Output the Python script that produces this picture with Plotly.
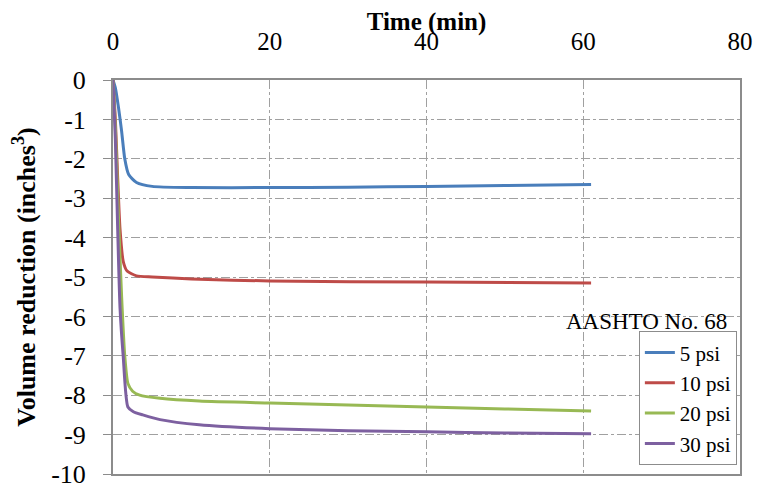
import plotly.graph_objects as go

series_names = ["5 psi", "10 psi", "20 psi", "30 psi"]
colors = ["#4A7EBB", "#BE4B48", "#98B954", "#7D60A0"]

t_5 = [0, 0.3, 0.7, 1.1, 1.5, 2.0, 3.0, 5.0, 10, 20, 30, 40, 50, 61]
v_5 = [0, -0.2, -0.7, -1.3, -2.0, -2.4, -2.6, -2.7, -2.73, -2.73, -2.72, -2.7, -2.68, -2.65]

t_10 = [0, 0.3, 0.6, 0.9, 1.3, 1.8, 3.0, 5.0, 10, 20, 40, 61]
v_10 = [0, -1.0, -2.5, -3.8, -4.6, -4.85, -4.97, -5.0, -5.05, -5.1, -5.13, -5.15]

t_20 = [0, 0.3, 0.7, 1.1, 1.5, 1.9, 2.5, 3.4, 6, 11, 20, 30, 40, 50, 61]
v_20 = [0, -1.2, -3.5, -5.5, -7.0, -7.7, -7.9, -8.0, -8.08, -8.15, -8.2, -8.25, -8.3, -8.35, -8.4]

t_30 = [0, 0.3, 0.6, 0.9, 1.3, 1.9, 2.6, 3.8, 6, 11, 20, 30, 40, 50, 61]
v_30 = [0, -1.5, -3.8, -5.8, -7.0, -8.3, -8.42, -8.5, -8.62, -8.75, -8.85, -8.9, -8.93, -8.96, -8.98]

xs = [t_5, t_10, t_20, t_30]
ys = [v_5, v_10, v_20, v_30]

x_ticks = [0, 20, 40, 60, 80]
y_ticks = list(range(0, -11, -1))

font_family = "Liberation Serif"

fig = go.Figure()
for name, c, x, y in zip(series_names, colors, xs, ys):
    fig.add_trace(go.Scatter(x=x, y=y, mode="lines", name=name,
                             line=dict(color=c, width=3, shape="spline", smoothing=0.6)))

fig.update_layout(
    width=760, height=481,
    margin=dict(l=105, r=28, t=72, b=15),
    paper_bgcolor="white", plot_bgcolor="white",
    font=dict(family=font_family, size=26, color="black"),
    showlegend=True,
    legend=dict(x=0.995, y=0.022, xanchor="right", yanchor="bottom",
                bordercolor="#8c8c8c", borderwidth=1, bgcolor="white",
                font=dict(family=font_family, size=21), itemwidth=30, tracegroupgap=0),
    annotations=[dict(text="AASHTO No. 68", xref="paper", yref="paper",
                      x=0.982, y=0.386, xanchor="right", yanchor="middle",
                      showarrow=False, font=dict(family=font_family, size=23))],
)

fig.update_xaxes(
    side="top", range=[0, 80], tickvals=x_ticks, ticktext=[str(v) for v in x_ticks],
    showgrid=True, gridcolor="#a0a0a0", griddash="dashdot", gridwidth=1,
    showline=True, linecolor="#8c8c8c", linewidth=2, mirror=True,
    zeroline=False, ticks="outside", ticklen=6, tickcolor="rgba(0,0,0,0)",
    ticklabelstandoff=12, automargin=False,
    tickfont=dict(family=font_family, size=25),
    title=dict(text="<b>Time (min)</b>", font=dict(family=font_family, size=25), standoff=2),
)
fig.update_yaxes(
    range=[-10, 0], tickvals=y_ticks, ticktext=[str(v) for v in y_ticks],
    showgrid=True, gridcolor="#a0a0a0", griddash="dashdot", gridwidth=1,
    showline=True, linecolor="#8c8c8c", linewidth=2, mirror=True,
    zeroline=False, ticks="outside", ticklen=8, tickcolor="#8c8c8c",
    ticklabelstandoff=12, automargin=False, ticklabeloverflow="allow",
    tickfont=dict(family=font_family, size=26),
    title=dict(text="<b>Volume reduction (inches<sup>3</sup>)</b>",
               font=dict(family=font_family, size=26), standoff=9),
)

fig.write_html("out.html")
